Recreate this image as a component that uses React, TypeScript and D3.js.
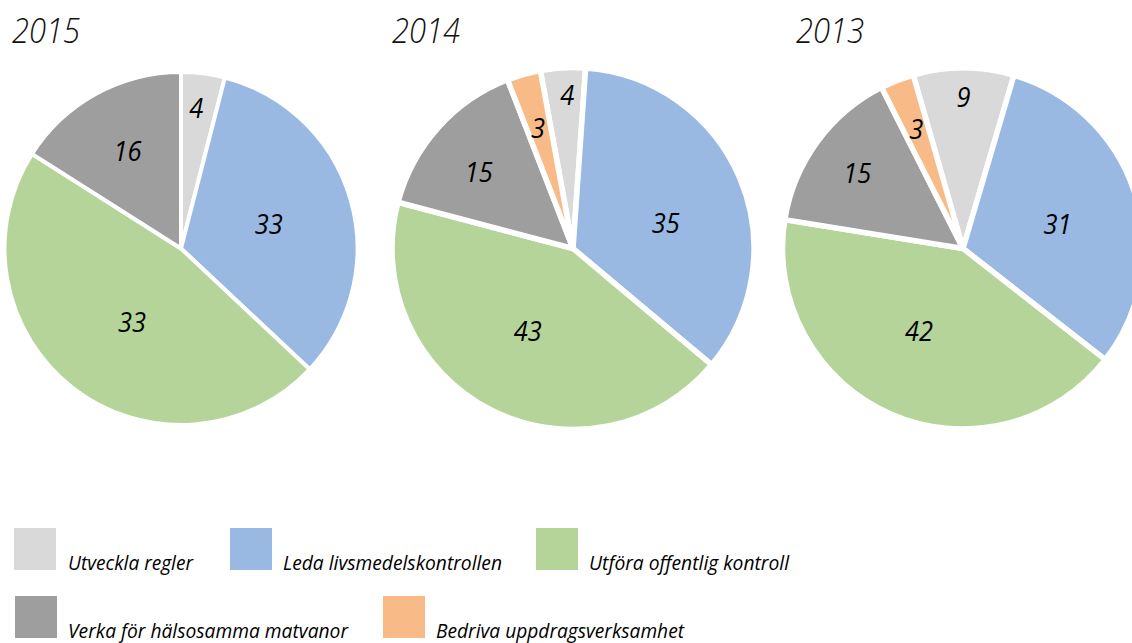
import React from "react";
import * as d3 from "d3";

// ---- data ----
const categories = [
  "Utveckla regler",
  "Leda livsmedelskontrollen",
  "Utföra offentlig kontroll",
  "Verka för hälsosamma matvanor",
  "Bedriva uppdragsverksamhet",
];
const years = ["2015", "2014", "2013"];
const values2015 = [4, 33, 47, 16, 0];
const values2014 = [4, 35, 43, 15, 3];
const values2013 = [9, 31, 42, 15, 3];
// label texts as printed in the chart
const labels2015 = ["4", "33", "33", "16", ""];
const labels2014 = ["4", "35", "43", "15", "3"];
const labels2013 = ["9", "31", "42", "15", "3"];

// ---- styles / layout ----
const colors = ["#D9D9D9", "#99B9E2", "#B5D49A", "#9E9E9E", "#F8BB87"];
const W = 1132;
const H = 643;
const pieLayout = [
  {
    cx: 181, cy: 248.5, r: 176.5, start: 0, stroke: 4, titleX: 12,
    labelR: [0.8, 0.515, 0.5, 0.63, 0.7], labelDA: [-1, 1, -4, 0, 0],
  },
  {
    cx: 573, cy: 248.5, r: 181, start: -10.4, stroke: 5.5, titleX: 392,
    labelR: [0.845, 0.53, 0.52, 0.67, 0.69], labelDA: [1, 8, 1.4, -2.8, -0.5],
  },
  {
    cx: 963, cy: 248.5, r: 180.5, start: -16, stroke: 5.5, titleX: 796,
    labelR: [0.84, 0.54, 0.52, 0.72, 0.71], labelDA: [0, 3.7, 4.3, -0.7, 0],
  },
];
const legendLayout = [
  { x: 14, y: 528, tx: 68, tw: 125 },
  { x: 230, y: 528, tx: 283, tw: 219 },
  { x: 536, y: 528, tx: 589, tw: 200 },
  { x: 15, y: 596, tx: 68, tw: 280 },
  { x: 383, y: 596, tx: 436, tw: 248 },
];
const FONT = "'Open Sans', 'Lato', sans-serif";

const allValues = [values2015, values2014, values2013];
const allLabels = [labels2015, labels2014, labels2013];

function Pie({ idx }: { idx: number }) {
  const L = pieLayout[idx];
  const vals = allValues[idx];
  const labs = allLabels[idx];
  const rad = (L.start * Math.PI) / 180;
  const pie = d3
    .pie<number>()
    .sort(null)
    .value((d) => d)
    .startAngle(rad)
    .endAngle(rad + 2 * Math.PI);
  const arcs = pie(vals);
  const arc = d3.arc<d3.PieArcDatum<number>>().innerRadius(0).outerRadius(L.r);
  const fs = 27;
  return (
    <g>
      <text
        x={L.titleX}
        y={43}
        fontFamily={FONT}
        fontStyle="italic"
        fontWeight={300}
        fontSize={35}
        fill="#111"
        textLength={68}
        lengthAdjust="spacingAndGlyphs"
      >
        {years[idx]}
      </text>
      <g transform={`translate(${L.cx},${L.cy})`}>
        {arcs.map((a, i) =>
          a.value > 0 ? (
            <path
              key={i}
              d={arc(a) || ""}
              fill={colors[i]}
              stroke="#fff"
              strokeWidth={L.stroke}
              strokeLinejoin="miter"
            />
          ) : null
        )}
        {arcs.map((a, i) => {
          if (a.value <= 0) return null;
          const mid = (a.startAngle + a.endAngle) / 2 + (L.labelDA[i] * Math.PI) / 180;
          const rr = L.labelR[i] * L.r;
          const x = rr * Math.sin(mid);
          const y = -rr * Math.cos(mid);
          const t = labs[i];
          return (
            <text
              key={"l" + i}
              x={x}
              y={y + fs * 0.36}
              textAnchor="middle"
              fontFamily={FONT}
              fontStyle="italic"
              fontSize={fs}
              fill="#000"
              textLength={t.length * 14}
              lengthAdjust="spacingAndGlyphs"
            >
              {t}
            </text>
          );
        })}
      </g>
    </g>
  );
}

export default function App() {
  return (
    <svg
      width={W}
      height={H}
      viewBox={`0 0 ${W} ${H}`}
      style={{ position: "absolute", left: 0, top: 0, background: "#fff" }}
    >
      <rect x={0} y={0} width={W} height={H} fill="#fff" />
      {years.map((_, i) => (
        <Pie key={i} idx={i} />
      ))}
      {categories.map((c, i) => {
        const g = legendLayout[i];
        return (
          <g key={c}>
            <rect x={g.x} y={g.y} width={42} height={42} fill={colors[i]} />
            <text
              x={g.tx}
              y={g.y + 42}
              fontFamily={FONT}
              fontStyle="italic"
              fontSize={20}
              fill="#000"
              textLength={g.tw}
              lengthAdjust="spacingAndGlyphs"
            >
              {c}
            </text>
          </g>
        );
      })}
    </svg>
  );
}
